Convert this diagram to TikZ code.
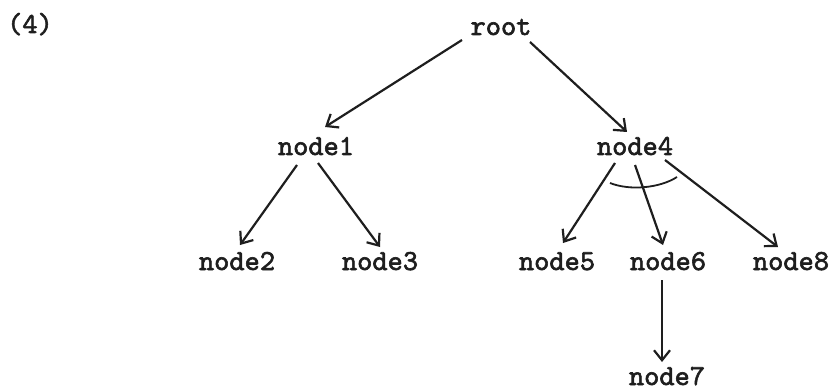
\documentclass[tikz,border=0pt]{standalone}
\usepackage{fontspec}
\setmonofont[FakeBold=2]{lmmono10-regular.otf}
\usetikzlibrary{arrows.meta,calc}
\definecolor{ink}{HTML}{1E1E1E}
\tikzset{
  lbl/.style={anchor=base, inner sep=0pt, text=ink, font=\ttfamily\fontsize{29}{29}\selectfont},
  edge/.style={draw=ink, line width=2.2pt, -{Straight Barb[length=10pt,width=16pt,line width=2.2pt]}},
  arcline/.style={draw=ink, line width=1.8pt}
}
\begin{document}
\begin{tikzpicture}[x=1pt,y=-1pt]
\useasboundingbox (0,0) rectangle (834,390);
\node[lbl] (lab) at (30,33) {(4)};
\node[lbl] (root) at (501,35) {root};
\node[lbl] (n1) at (316,155) {node1};
\node[lbl] (n4) at (635,155) {node4};
\node[lbl] (n2) at (237,270) {node2};
\node[lbl] (n3) at (380,270) {node3};
\node[lbl] (n5) at (557,270) {node5};
\node[lbl] (n6) at (668,270) {node6};
\node[lbl] (n8) at (791,270) {node8};
\node[lbl] (n7) at (667,385) {node7};
\draw[edge] ($(root.base)+(-39,5)$) -- ($(n1.base)+(9,-28)$);
\draw[edge] ($(root.base)+(29,7)$) -- ($(n4.base)+(-8,-23)$);
\draw[edge] ($(n1.base)+(-19,10)$) -- ($(n2.base)+(3,-25)$);
\draw[edge] ($(n1.base)+(2,8)$) -- ($(n3.base)+(0,-23)$);
\draw[edge] ($(n4.base)+(-20,8)$) -- ($(n5.base)+(6,-27)$);
\draw[edge] ($(n4.base)+(0,10)$) -- ($(n6.base)+(-5,-25)$);
\draw[edge] ($(n4.base)+(30,5)$) -- ($(n8.base)+(-13,-23)$);
\draw[edge] ($(n6.base)+(-6,10)$) -- ($(n7.base)+(-5,-23)$);
\draw[arcline] ($(n4.base)+(-25,28)$) .. controls ($(n4.base)+(-5,36)$) and ($(n4.base)+(25,33)$) .. ($(n4.base)+(42,22)$);
\end{tikzpicture}
\end{document}
